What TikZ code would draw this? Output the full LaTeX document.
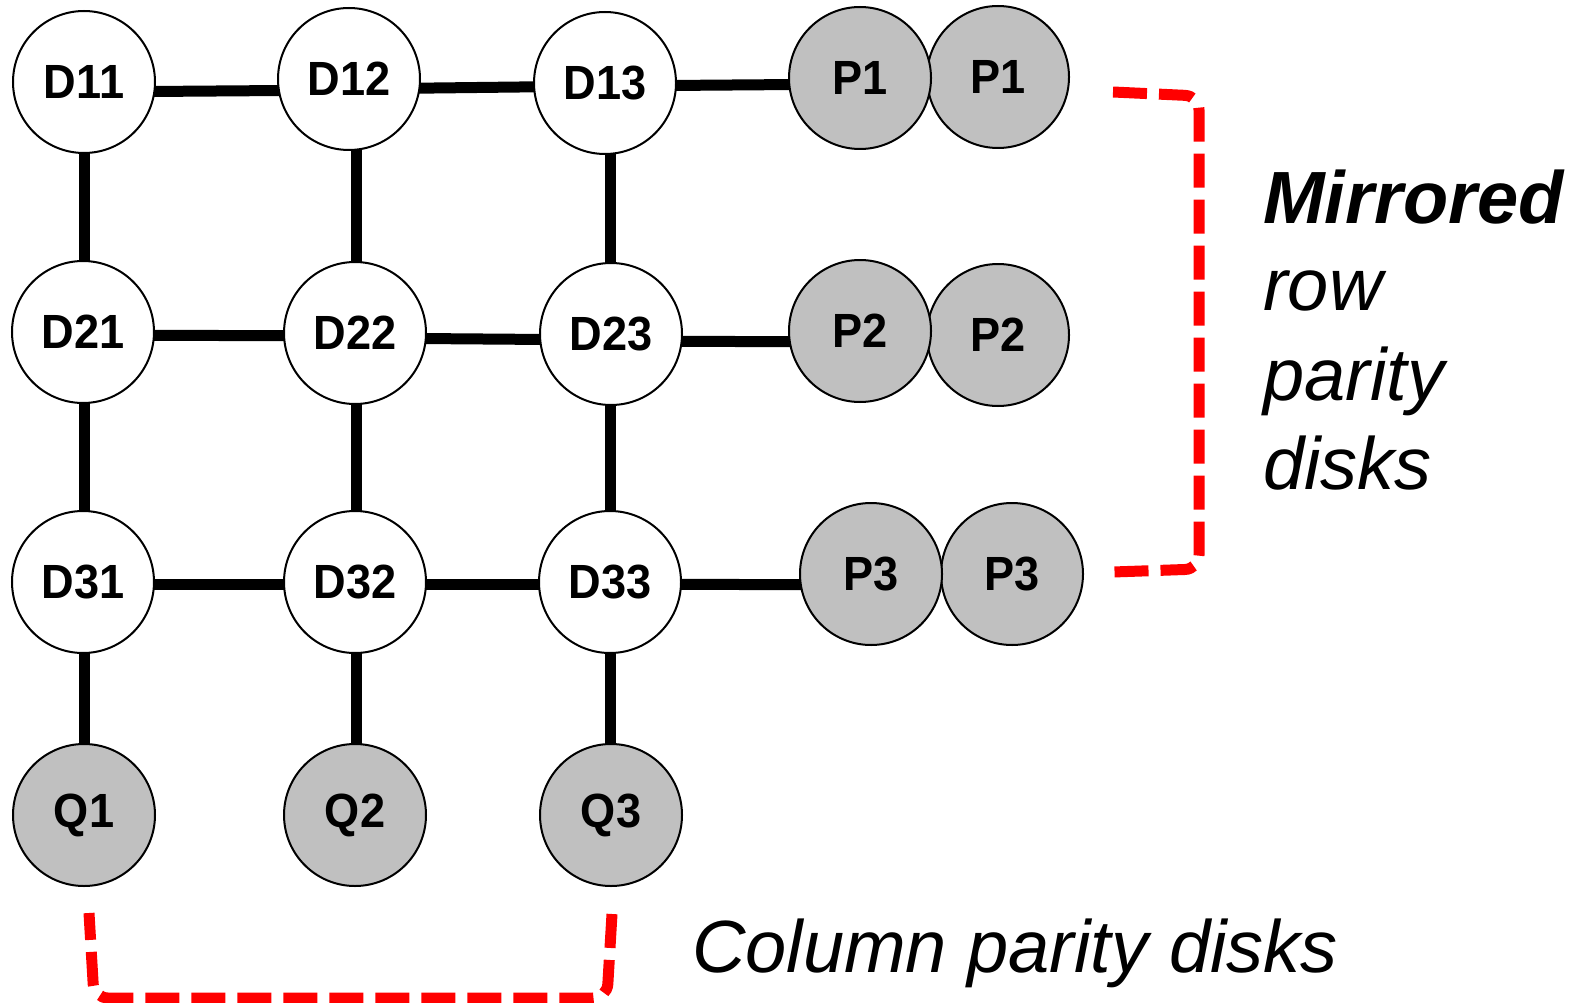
\documentclass[tikz,border=0pt]{standalone}
\usepackage{fontspec}
\setmainfont{Liberation Sans}
\newfontfamily\lblfont[FakeStretch=0.94]{Liberation Sans}
\usetikzlibrary{calc,backgrounds}
\definecolor{diskgray}{RGB}{192,192,192}
\definecolor{bred}{RGB}{255,0,0}
\begin{document}
\begin{tikzpicture}[x=1pt,y=-1pt,
  disk/.style={circle,draw=black,line width=2pt,minimum size=142pt,inner sep=0pt,
    font=\lblfont\bfseries\fontsize{48}{48}\selectfont},
  datadisk/.style={disk,fill=white},
  paritydisk/.style={disk,fill=diskgray},
  link/.style={line width=11pt},
  bracket/.style={draw=bred,line width=11pt,dash pattern=on 34pt off 12pt,rounded corners=14pt},
  note/.style={inner sep=0pt,anchor=base west,font=\itshape\fontsize{74}{89}\selectfont}]
\useasboundingbox (0,0) rectangle (1587,1003);

% data disks
\node[datadisk] (D11) at (84,82) {D11};
\node[datadisk] (D12) at (349,79) {D12};
\node[datadisk] (D13) at (605,83) {D13};
\node[datadisk] (D21) at (83,332) {D21};
\node[datadisk] (D22) at (355,333) {D22};
\node[datadisk] (D23) at (611,334) {D23};
\node[datadisk] (D31) at (83,582) {D31};
\node[datadisk] (D32) at (355,582) {D32};
\node[datadisk] (D33) at (610,582) {D33};

% row parity disks (mirrored)
\node[paritydisk] (P1b) at (998,77) {P1};
\node[paritydisk] (P1a) at (860,78) {P1};
\node[paritydisk] (P2b) at (998,335) {P2};
\node[paritydisk] (P2a) at (860,331) {P2};
\node[paritydisk] (P3b) at (1012,574) {P3};
\node[paritydisk] (P3a) at (871,574) {P3};

% column parity disks
\node[paritydisk] (Q1) at (84,815) {Q1};
\node[paritydisk] (Q2) at (355,815) {Q2};
\node[paritydisk] (Q3) at (611,815) {Q3};

\begin{pgfonlayer}{background}
  % rows
  \draw[link] ($(D11)+(0,10)$) -- ($(D12)+(0,11)$);
  \draw[link] ($(D12)+(0,10)$) -- ($(D13)+(0,3)$);
  \draw[link] ($(D13)+(0,3)$) -- ($(P1a)+(0,6)$);
  \draw[link] ($(D21)+(0,3)$) -- ($(D22)+(0,3)$);
  \draw[link] ($(D22)+(0,5)$) -- ($(D23)+(0,6)$);
  \draw[link] ($(D23)+(0,7)$) -- ($(P2a)+(0,11)$);
  \draw[link] ($(D31)+(0,2)$) -- ($(D32)+(0,2)$);
  \draw[link] ($(D32)+(0,2)$) -- ($(D33)+(0,2)$);
  \draw[link] ($(D33)+(0,2)$) -- ($(P3a)+(0,11)$);
  % columns
  \draw[link] ($(D11)+(0,0)$) -- ($(D21)+(1,0)$);
  \draw[link] ($(D21)+(1,0)$) -- ($(D31)+(1,0)$);
  \draw[link] ($(D31)+(1,0)$) -- ($(Q1)+(0,0)$);
  \draw[link] ($(D12)+(7,0)$) -- ($(D22)+(1,0)$);
  \draw[link] ($(D22)+(1,0)$) -- ($(D32)+(1,0)$);
  \draw[link] ($(D32)+(1,0)$) -- ($(Q2)+(1,0)$);
  \draw[link] ($(D13)+(5,0)$) -- ($(D23)+(-1,0)$);
  \draw[link] ($(D23)+(-1,0)$) -- ($(D33)+(0,0)$);
  \draw[link] ($(D33)+(0,0)$) -- ($(Q3)+(-1,0)$);
\end{pgfonlayer}

% brackets
\coordinate (rb1) at (1113,92);
\coordinate (rb2) at (1199,96);
\coordinate (rb3) at (1199,569);
\coordinate (rb4) at (1113,572);
\draw[bracket] (rb1) -- (rb2) -- (rb3) -- (rb4);

\coordinate (cb1) at (612,914);
\coordinate (cb2) at (607,998);
\coordinate (cb3) at (94,998);
\coordinate (cb4) at (89,913);
\draw[bracket] (cb1) -- (cb2) -- (cb3) -- (cb4);

% labels
\node[note,font=\bfseries\itshape\fontsize{74}{89}\selectfont] (m1) at (1263,223) {Mirrored};
\node[note] (m2) at (1263,310) {row};
\node[note] (m3) at (1263,400) {parity};
\node[note] (m4) at (1263,489) {disks};
\node[note] (col) at (692,972) {Column parity disks};
\end{tikzpicture}
\end{document}
